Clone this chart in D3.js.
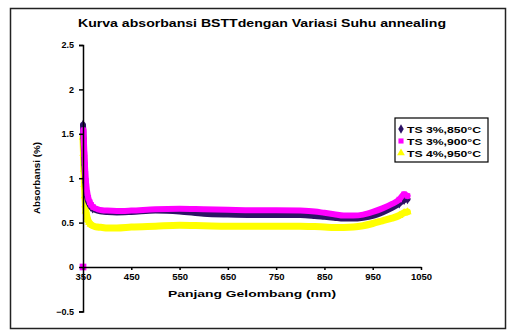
<!DOCTYPE html>
<html>
<head>
<meta charset="utf-8">
<script src="https://cdn.jsdelivr.net/npm/d3@7"></script>
<style>
  body { margin: 0; background: #fff; }
  svg { display: block; }
  text { font-family: "Liberation Sans", Arial, sans-serif; font-weight: bold; fill: #000; }
</style>
</head>
<body>
<svg id="chart" width="508" height="332"></svg>
<script>
// Absorbance spectra of BSTT films at three annealing temperatures
const seriesNames = ["TS 3%,850°C", "TS 3%,900°C", "TS 4%,950°C"];
const seriesColors = ["#2d1266", "#ff00ff", "#ffff00"];

const nm850 = [350,351,352,353,354,355,356,358,360,363,366,370,375,380,390,400,420,450,500,550,600,650,700,750,800,830,850,870,890,910,930,950,970,990,1005,1015,1022];
const abs850 = [1.60,1.45,1.30,1.15,1.04,0.95,0.88,0.80,0.75,0.71,0.68,0.66,0.645,0.635,0.625,0.62,0.615,0.62,0.635,0.625,0.60,0.59,0.585,0.585,0.585,0.575,0.565,0.555,0.545,0.545,0.555,0.575,0.615,0.665,0.715,0.755,0.765];

const nm900 = [350,351,352,353,354,355,356,357,359,361,364,367,371,376,381,390,400,420,450,500,550,600,650,700,750,800,830,850,870,890,910,930,950,970,990,1005,1015,1022];
const abs900 = [0,1.54,1.40,1.27,1.15,1.05,0.97,0.91,0.83,0.78,0.73,0.70,0.675,0.66,0.65,0.64,0.635,0.63,0.635,0.65,0.655,0.65,0.645,0.64,0.64,0.635,0.625,0.61,0.595,0.58,0.58,0.59,0.62,0.66,0.71,0.76,0.82,0.80];

const nm950 = [350,351,352,353,354,355,356,358,360,363,366,370,375,380,390,400,420,450,500,550,600,650,700,750,800,830,850,870,890,910,930,950,970,990,1005,1015,1022];
const abs950 = [1.46,1.28,1.10,0.93,0.80,0.70,0.63,0.57,0.53,0.50,0.48,0.465,0.455,0.45,0.445,0.44,0.44,0.45,0.46,0.47,0.465,0.46,0.46,0.46,0.46,0.455,0.45,0.445,0.445,0.45,0.465,0.49,0.52,0.55,0.58,0.61,0.62];

const xTicks = [350,450,550,650,750,850,950,1050];
const yTicks = [-0.5,0,0.5,1,1.5,2,2.5];

const titleText = "Kurva absorbansi BSTTdengan Variasi Suhu annealing";
const xTitle = "Panjang Gelombang (nm)";
const yTitle = "Absorbansi (%)";

const series = [
  { name: seriesNames[0], color: seriesColors[0], shape: d3.symbolDiamond, pts: nm850.map((x, i) => ({ x, y: abs850[i] })) },
  { name: seriesNames[1], color: seriesColors[1], shape: d3.symbolSquare,  pts: nm900.map((x, i) => ({ x, y: abs900[i] })) },
  { name: seriesNames[2], color: seriesColors[2], shape: d3.symbolTriangle, pts: nm950.map((x, i) => ({ x, y: abs950[i] })) }
];

const svg = d3.select("#chart");

// outer chart frame
svg.append("rect").attr("x", 10.5).attr("y", 8.5).attr("width", 495).attr("height", 320)
  .attr("fill", "#fff").attr("stroke", "#222").attr("stroke-width", 1.5);

const x = d3.scaleLinear().domain([350, 1050]).range([83, 421]);
const y = d3.scaleLinear().domain([-0.5, 2.5]).range([311.4, 45]);

// data bands and markers: yellow at the back, magenta on top
const line = d3.line().x(d => x(d.x)).y(d => y(d.y)).curve(d3.curveMonotoneX);
[2, 0, 1].forEach(i => {
  const s = series[i];
  const linePts = s.pts.filter(d => d.y > 0);
  svg.append("path").datum(linePts).attr("d", line)
    .attr("fill", "none").attr("stroke", s.color)
    .attr("stroke-width", i === 2 ? 7 : 6).attr("stroke-linejoin", "round").attr("stroke-linecap", "round");
  svg.append("g").selectAll("path").data(s.pts.filter(d => d.x < 372 || d.x > 1000)).join("path")
    .attr("transform", d => `translate(${x(d.x)},${y(d.y)})`)
    .attr("d", d3.symbol().type(s.shape).size(d => d.y === 0 ? 45 : 30))
    .attr("fill", s.color);
});

// y axis
const yAxis = svg.append("g").attr("transform", `translate(${x(350)},0)`)
  .call(d3.axisLeft(y).tickValues(yTicks).tickSize(4).tickPadding(5)
    .tickFormat(d => d === 0 ? "0" : d3.format(".1f")(d).replace(/\.0$/, "")));
yAxis.selectAll("text").style("font-size", "9px");
yAxis.selectAll("line,path").attr("stroke", "#000").attr("stroke-width", 1.5);

// x axis crossing at zero
const xAxis = svg.append("g").attr("transform", `translate(0,${y(0)})`)
  .call(d3.axisBottom(x).tickValues(xTicks).tickSize(3).tickPadding(3).tickSizeOuter(0).tickFormat(d3.format("d")));
xAxis.selectAll("text").style("font-size", "9.5px");
xAxis.selectAll("line,path").attr("stroke", "#000").attr("stroke-width", 1.5);

// title
svg.append("text").attr("x", 262).attr("y", 27).attr("text-anchor", "middle")
  .style("font-size", "10.5px").attr("textLength", 368).attr("lengthAdjust", "spacingAndGlyphs").text(titleText);

// axis titles
svg.append("text").attr("x", 252).attr("y", 297).attr("text-anchor", "middle")
  .style("font-size", "9.5px").attr("textLength", 168).attr("lengthAdjust", "spacingAndGlyphs").text(xTitle);
svg.append("text").attr("transform", "translate(40,178) rotate(-90)").attr("text-anchor", "middle")
  .style("font-size", "9.5px").attr("textLength", 72).attr("lengthAdjust", "spacingAndGlyphs").text(yTitle);

// legend
const lg = svg.append("g").attr("transform", "translate(395,118)");
lg.append("rect").attr("width", 93).attr("height", 44).attr("fill", "#fff").attr("stroke", "#000").attr("stroke-width", 1.2);
series.forEach((s, i) => {
  const row = lg.append("g").attr("transform", `translate(0,${11 + i * 12})`);
  row.append("path").attr("transform", "translate(6,0)").attr("d", d3.symbol().type(s.shape).size(26)).attr("fill", s.color);
  row.append("text").attr("x", 12).attr("y", 3.5).style("font-size", "9px")
    .attr("textLength", 74).attr("lengthAdjust", "spacingAndGlyphs").text(s.name);
});
</script>
</body>
</html>
